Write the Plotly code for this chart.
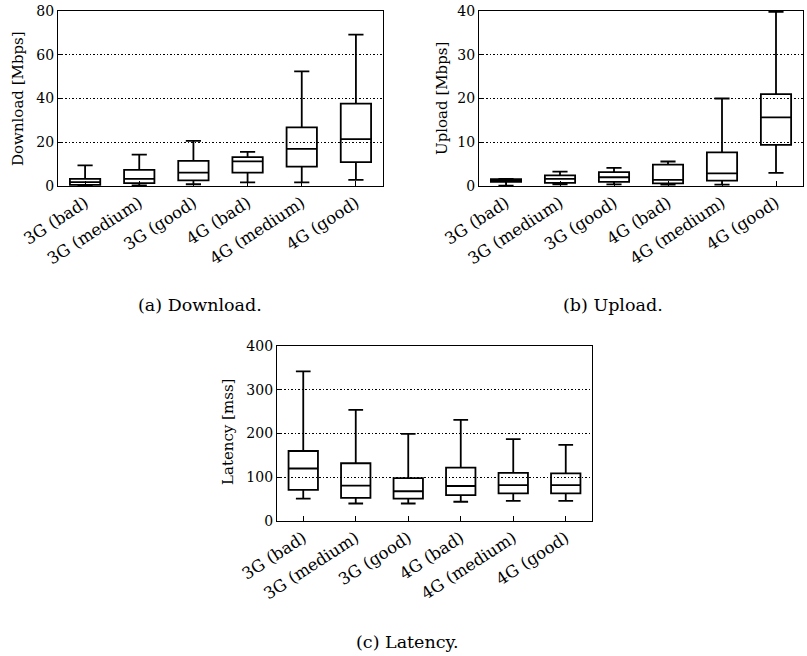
import plotly.graph_objects as go

categories = ["3G (bad)", "3G (medium)", "3G (good)", "4G (bad)", "4G (medium)", "4G (good)"]

# Download [Mbps]
dl_lower = [0.1, 0.3, 0.8, 1.7, 1.7, 2.8]
dl_q1 = [0.5, 1.3, 2.6, 6.1, 8.9, 10.9]
dl_median = [1.8, 3.3, 6.1, 11.3, 17.0, 21.4]
dl_q3 = [3.3, 7.4, 11.5, 13.2, 26.8, 37.7]
dl_upper = [9.4, 14.3, 20.6, 15.6, 52.4, 69.2]

# Upload [Mbps]
ul_lower = [0.1, 0.4, 0.35, 0.3, 0.3, 3.0]
ul_q1 = [0.95, 0.7, 0.95, 0.6, 1.25, 9.4]
ul_median = [1.3, 1.65, 2.0, 1.4, 2.9, 15.7]
ul_q3 = [1.55, 2.45, 3.15, 4.9, 7.7, 21.0]
ul_upper = [1.6, 3.3, 4.15, 5.6, 20.0, 39.8]

# Latency [ms]
lat_lower = [51, 40, 40, 44, 46, 46]
lat_q1 = [71, 53, 51, 59, 63, 63]
lat_median = [120, 81, 68, 80, 82, 82]
lat_q3 = [160, 132, 98, 122, 110, 109]
lat_upper = [342, 254, 199, 231, 187, 174]

FONT = "DejaVu Serif"
W, H = 807, 656

def px_x(a, b):
    return [a / W, b / W]

def px_y(top, bottom):
    return [1 - bottom / H, 1 - top / H]

fig = go.Figure()

def add_box(lower, q1, med, q3, upper, xa, ya):
    fig.add_trace(go.Box(
        x=categories, q1=q1, median=med, q3=q3,
        lowerfence=lower, upperfence=upper,
        fillcolor="rgba(255,255,255,0)",
        line=dict(color="black", width=1.8),
        whiskerwidth=0.5, boxpoints=False,
        xaxis=xa, yaxis=ya, showlegend=False, hoverinfo="skip",
    ))

add_box(dl_lower, dl_q1, dl_median, dl_q3, dl_upper, "x", "y")
add_box(ul_lower, ul_q1, ul_median, ul_q3, ul_upper, "x2", "y2")
add_box(lat_lower, lat_q1, lat_median, lat_q3, lat_upper, "x3", "y3")

xcommon = dict(
    type="category", range=[-0.5, 5.5], tickangle=-33, automargin=False,
    showline=True, mirror=True, linecolor="black", linewidth=1.2,
    ticks="inside", ticklen=5, tickcolor="black", showgrid=False,
    tickfont=dict(family=FONT, size=16.5, color="black"), zeroline=False,
)
ycommon = dict(
    automargin=False,
    showline=True, mirror=True, linecolor="black", linewidth=1.2,
    ticks="inside", ticklen=4, tickcolor="black",
    showgrid=True, gridcolor="black", griddash="1.5px,2px", gridwidth=1,
    tickfont=dict(family=FONT, size=14, color="black"), zeroline=False,
)

fig.update_layout(
    width=W, height=H, margin=dict(l=0, r=0, t=0, b=0, autoexpand=False),
    paper_bgcolor="white", plot_bgcolor="white", boxgap=0.2,
    xaxis=dict(domain=px_x(58, 383), anchor="y", **xcommon),
    yaxis=dict(domain=px_y(11, 186), anchor="x", range=[0, 80], dtick=20, **ycommon),
    xaxis2=dict(domain=px_x(479, 803), anchor="y2", **xcommon),
    yaxis2=dict(domain=px_y(11, 186), anchor="x2", range=[0, 40], dtick=10, **ycommon),
    xaxis3=dict(domain=px_x(277, 592), anchor="y3", **xcommon),
    yaxis3=dict(domain=px_y(346, 521), anchor="x3", range=[0, 400], dtick=100, **ycommon),
)

def ann(text, x, y, size, angle=0):
    fig.add_annotation(
        text=text, x=x / W, y=1 - y / H, xref="paper", yref="paper",
        showarrow=False, textangle=angle, xanchor="center", yanchor="middle",
        font=dict(family=FONT, size=size, color="black"),
    )

ann("Download [Mbps]", 18, 99, 15, -90)
ann("Upload [Mbps]", 442, 99, 15, -90)
ann("Latency [mss]", 228, 432, 15, -90)
ann("(a) Download.", 200, 305, 17.5)
ann("(b) Upload.", 613, 305, 17.5)
ann("(c) Latency.", 407, 642, 17.5)

fig.write_html("out.html", config={"displayModeBar": False},
               post_script="document.body.style.margin='0';")
